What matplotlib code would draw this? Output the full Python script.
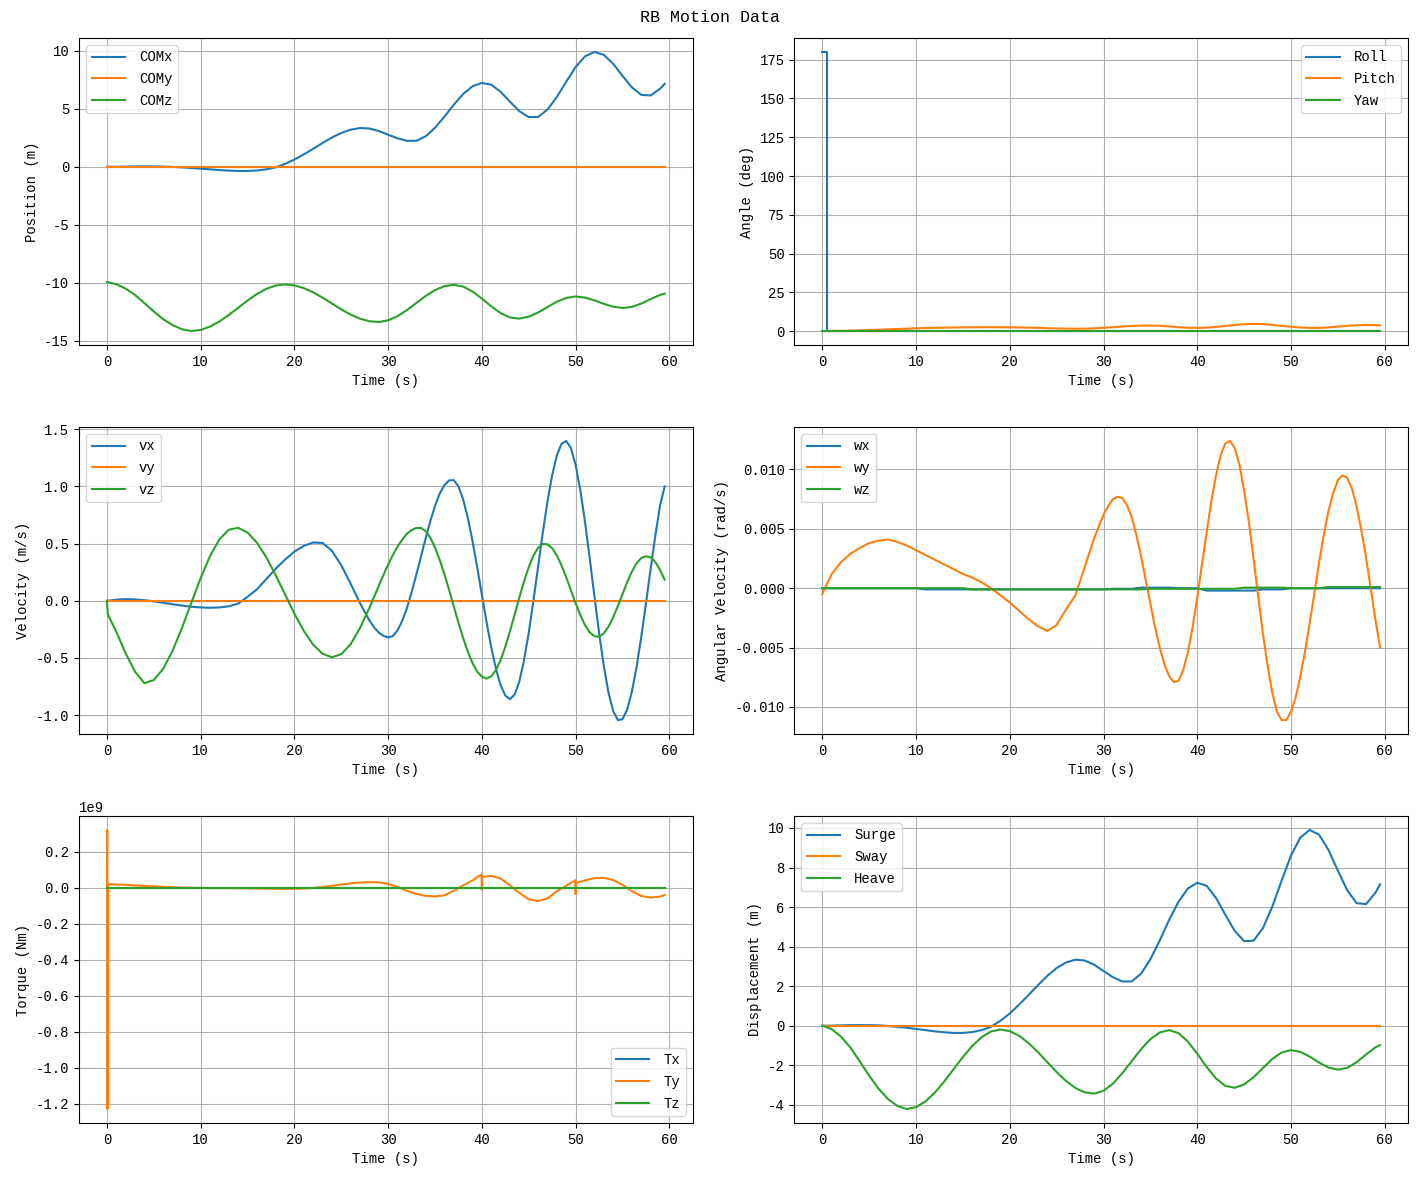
import numpy as np
import matplotlib
matplotlib.use("Agg")
import matplotlib.pyplot as plt

plt.rcParams['font.family'] = ['Liberation Mono', 'DejaVu Sans']
plt.rcParams['axes.unicode_minus'] = False
plt.rcParams['legend.handlelength'] = 2.4
plt.rcParams['legend.handletextpad'] = 1.0
plt.rcParams['legend.labelspacing'] = 0.55

# ---------------- data ----------------
time = [0, 0.1] + list(range(1, 60)) + [59.5]
time_fine = [0, 0.1] + list(range(1, 28)) + [28 + 0.5 * k for k in range(64)]

com_x = [0, 0, 0.005, 0.02, 0.03, 0.035, 0.03, 0.02, -0.01, -0.05, -0.1, -0.16, -0.22, -0.28, -0.33, -0.36,
         -0.36, -0.32, -0.22, -0.05, 0.25, 0.62, 1.07, 1.55, 2.05, 2.52, 2.92, 3.2, 3.34, 3.30, 3.087,
         2.769, 2.456, 2.24, 2.24, 2.63, 3.36, 4.316, 5.35, 6.27, 6.94, 7.23, 7.075, 6.466, 5.606, 4.795,
         4.28, 4.30, 4.93, 6.02, 7.34, 8.60, 9.52, 9.90, 9.655, 8.89, 7.844, 6.849, 6.2, 6.15, 6.72, 7.15]
com_y = [0.0] * len(time)
heave = [0, -0.005, -0.17, -0.55, -1.1, -1.8, -2.52, -3.18, -3.7, -4.05, -4.21, -4.112, -3.826, -3.382,
         -2.821, -2.2, -1.579, -1.018, -0.574, -0.288, -0.19, -0.271, -0.506, -0.87, -1.329, -1.836, -2.34,
         -2.79, -3.145, -3.365, -3.43, -3.286, -2.928, -2.403, -1.794, -1.189, -0.677, -0.339, -0.22, -0.373,
         -0.801, -1.411, -2.08, -2.663, -3.041, -3.135, -2.969, -2.605, -2.137, -1.68, -1.351, -1.23, -1.321,
         -1.56, -1.861, -2.111, -2.22, -2.128, -1.843, -1.456, -1.095, -0.98]
com_z0 = -9.95

roll_time = [0, 0.5, 0.5, 59.5]
roll = [180, 180, 0, 0]
pitch = [0, 0.0, 0.03, 0.13, 0.28, 0.46, 0.66, 0.88, 1.12, 1.35, 1.56, 1.76, 1.93, 2.08, 2.21, 2.31, 2.39,
         2.45, 2.49, 2.5, 2.47, 2.42, 2.33, 2.2, 2.05, 1.85, 1.7, 1.58, 1.52, 1.55, 1.75, 2.1, 2.5, 2.95, 3.3,
         3.5, 3.55, 3.4, 3.0, 2.5, 2.15, 2.05, 2.2, 2.7, 3.3, 3.95, 4.45, 4.65, 4.5, 4.0, 3.35, 2.75, 2.3,
         2.05, 2.05, 2.35, 2.85, 3.35, 3.75, 3.9, 3.8, 3.7]
yaw = [0.0] * len(time)

# velocities on the finer time grid
vx = [0.0, 0.0, 0.01, 0.015, 0.012, 0.005, -0.005, -0.017, -0.03, -0.042, -0.052, -0.058, -0.061, -0.058,
      -0.048, -0.025, 0.035, 0.1, 0.19, 0.28, 0.36, 0.43, 0.48, 0.51, 0.506, 0.437, 0.311, 0.149, -0.021,
      -0.172, -0.232, -0.278, -0.307, -0.32, -0.308, -0.259, -0.176, -0.064, 0.073, 0.226, 0.386, 0.546,
      0.696, 0.829, 0.937, 1.012, 1.053, 1.055, 1.0, 0.888, 0.725, 0.522, 0.293, 0.052, -0.187, -0.408,
      -0.596, -0.738, -0.829, -0.86, -0.82, -0.704, -0.518, -0.278, 0.002, 0.30, 0.597, 0.87, 1.100,
      1.272, 1.374, 1.398, 1.336, 1.189, 0.968, 0.69, 0.374, 0.043, -0.278, -0.566, -0.801, -0.963,
      -1.043, -1.036, -0.951, -0.796, -0.58, -0.318, -0.026, 0.277, 0.568, 0.831, 1.0]
vy = [0.0] * len(time)
vz = [0.0, -0.12, -0.27, -0.46, -0.62, -0.72, -0.693, -0.595, -0.438, -0.238, -0.018, 0.199, 0.391, 0.537,
      0.622, 0.638, 0.597, 0.508, 0.381, 0.225, 0.056, -0.112, -0.263, -0.384, -0.463, -0.494, -0.467,
      -0.379, -0.238,
      -0.061, 0.034, 0.131, 0.226, 0.317, 0.400, 0.473, 0.535, 0.586, 0.619, 0.637, 0.637, 0.610, 0.552,
      0.466, 0.359, 0.233, 0.095, -0.048, -0.191, -0.325, -0.444, -0.544, -0.619, -0.664, -0.68, -0.661,
      -0.606, -0.518, -0.402, -0.266, -0.120, 0.029, 0.170, 0.294, 0.396, 0.463, 0.497, 0.494, 0.460,
      0.396, 0.309, 0.205, 0.092, -0.021, -0.125, -0.212, -0.276, -0.310, -0.314, -0.285, -0.227, -0.146,
      -0.047, 0.058, 0.162, 0.255, 0.328, 0.374, 0.39, 0.38, 0.34, 0.27, 0.184]

wx = [0, 0, 0, 0, 0, 0, 0, 0, 0, 0, 0, 0,
      -0.0001, -0.0001, -0.0001, -0.0001, -0.0001, -0.0001, -0.0001, -0.0001, -0.0001, -0.0001,
      -0.0001, -0.0001, -0.0001, -0.0001, -0.0001, -0.0001, -0.0001, -0.0001, -0.0001, -0.0001,
      -0.00005, -0.00005, -0.00005, 0.00005, 0.00005, 0.00005, 0.00005, 0, 0, 0,
      -0.0002, -0.0002, -0.0002, -0.0002, -0.0002, -0.0002, -0.0001, -0.0001, -0.0001,
      0, 0, 0, 0, 0, 0, 0, 0, 0, 0, 0]
wy = [-0.0005, -0.0003, 0.0012, 0.0022, 0.0029, 0.0034, 0.0038, 0.0040, 0.0041, 0.0039, 0.0036, 0.0032,
      0.0028, 0.0024, 0.0020, 0.0016, 0.0012, 0.0009, 0.0005, 0.0000, -0.0006, -0.0012, -0.0019, -0.0026,
      -0.0032, -0.0036, -0.0031, -0.0018, -0.0006,
      0.0018, 0.0030, 0.0042, 0.0052, 0.0062, 0.0069, 0.0075, 0.0077, 0.0076, 0.0070, 0.0060, 0.0045,
      0.0027, 0.0007, -0.0013, -0.0033, -0.0050, -0.0064, -0.0074, -0.0079, -0.0078, -0.0069, -0.0054,
      -0.0033, -0.0008, 0.0020, 0.0047, 0.0073, 0.0095, 0.0112, 0.0122, 0.0124, 0.0118, 0.0104, 0.0082,
      0.0056, 0.0025, -0.0007, -0.0038, -0.0065, -0.0088, -0.0104, -0.0111, -0.0111, -0.0104, -0.0092,
      -0.0074, -0.0053, -0.0029, -0.0004, 0.0022, 0.0045, 0.0065, 0.0080, 0.0091, 0.0095, 0.0093, 0.0084,
      0.0069, 0.0049, 0.0026, 0.0000, -0.0026, -0.0050]
wz = [0, 0, 0, 0, 0, 0, 0, 0, 0, 0, 0, 0, 0, 0, 0, 0, 0,
      -0.0001, -0.0001, -0.0001, -0.0001, -0.0001, -0.0001, -0.0001, -0.0001, -0.0001, -0.0001,
      -0.0001, -0.0001, -0.0001, -0.0001, -0.0001, -0.0001, -0.0001, -0.0001, -0.0001,
      -0.00005, -0.00005, -0.00005, -0.00005, -0.00005, -0.00005, -0.00005, -0.00005, -0.00005, -0.00005,
      0.00005, 0.00005, 0.00005, 0.00005, 0.00005, 0, 0, 0, 0,
      0.0001, 0.0001, 0.0001, 0.0001, 0.0001, 0.0001, 0.0001]

torque_time = ([0, 0.03, 0.06, 0.1] + list(range(1, 40)) + [39.97, 40.0, 40.03] + list(range(41, 50))
               + [49.97, 50.0, 50.03] + list(range(51, 60)) + [59.5])
ty_e9 = [0.0, 0.32, -1.23, 0.02,
         0.017, 0.015, 0.012, 0.009, 0.007, 0.004, 0.002, 0.0, -0.001, -0.002,
         -0.003, -0.003, -0.003, -0.004, -0.004, -0.005, -0.006, -0.007, -0.007, -0.007,
         -0.005, -0.002, 0.003, 0.01, 0.017, 0.023, 0.028, 0.03, 0.029, 0.02,
         0.003, -0.018, -0.035, -0.046, -0.049, -0.043, -0.018, 0.012, 0.04,
         0.073, -0.011, 0.058,
         0.065, 0.05, 0.012, -0.03, -0.065, -0.075, -0.06, -0.02, 0.01,
         0.041, -0.037, 0.025,
         0.04, 0.052, 0.054, 0.042, 0.015, -0.02, -0.047, -0.056, -0.05,
         -0.041]
tx_e9 = [0.0] * len(torque_time)
tz_e9 = [0.0] * len(torque_time)

# ---------------- derived ----------------
t = np.array(time)
tf = np.array(time_fine)
com_z = np.array(heave) + com_z0
surge = np.array(com_x) - com_x[0]
sway = np.array(com_y) - com_y[0]
heave_disp = com_z - com_z[0]
tq_t = np.array(torque_time)
Tx = np.array(tx_e9) * 1e9
Ty = np.array(ty_e9) * 1e9
Tz = np.array(tz_e9) * 1e9

# ---------------- plot ----------------
fig, axs = plt.subplots(3, 2, figsize=(14.19, 11.8), dpi=100)
fig.subplots_adjust(left=0.0557, right=0.9922, top=0.9678, bottom=0.0483, wspace=0.166, hspace=0.267)
fig.suptitle('RB Motion Data', fontsize=12, y=0.985, va='center')

ax = axs[0, 0]
ax.plot(t, com_x, label='COMx')
ax.plot(t, com_y, label='COMy')
ax.plot(t, com_z, label='COMz')
ax.set_ylabel('Position (m)')
ax.legend(loc='upper left')

ax = axs[0, 1]
ax.plot(roll_time, roll, label='Roll')
ax.plot(t, pitch, label='Pitch')
ax.plot(t, yaw, label='Yaw')
ax.set_ylabel('Angle (deg)')
ax.legend(loc='upper right')

ax = axs[1, 0]
ax.plot(tf, vx, label='vx')
ax.plot(t, vy, label='vy')
ax.plot(tf, vz, label='vz')
ax.set_ylabel('Velocity (m/s)')
ax.legend(loc='upper left')

ax = axs[1, 1]
ax.plot(t, wx, label='wx')
ax.plot(tf, wy, label='wy')
ax.plot(t, wz, label='wz')
ax.set_ylabel('Angular Velocity (rad/s)')
ax.legend(loc='upper left')

ax = axs[2, 0]
ax.plot(tq_t, Tx, label='Tx')
ax.plot(tq_t, Ty, label='Ty')
ax.plot(tq_t, Tz, label='Tz')
ax.set_ylabel('Torque (Nm)')
ax.legend(loc='lower right')

ax = axs[2, 1]
ax.plot(t, surge, label='Surge')
ax.plot(t, sway, label='Sway')
ax.plot(t, heave_disp, label='Heave')
ax.set_ylabel('Displacement (m)')
ax.legend(loc='upper left')

for ax in axs.flat:
    ax.set_xlabel('Time (s)')
    ax.grid(True)

fig.savefig('out.png', dpi=100)
